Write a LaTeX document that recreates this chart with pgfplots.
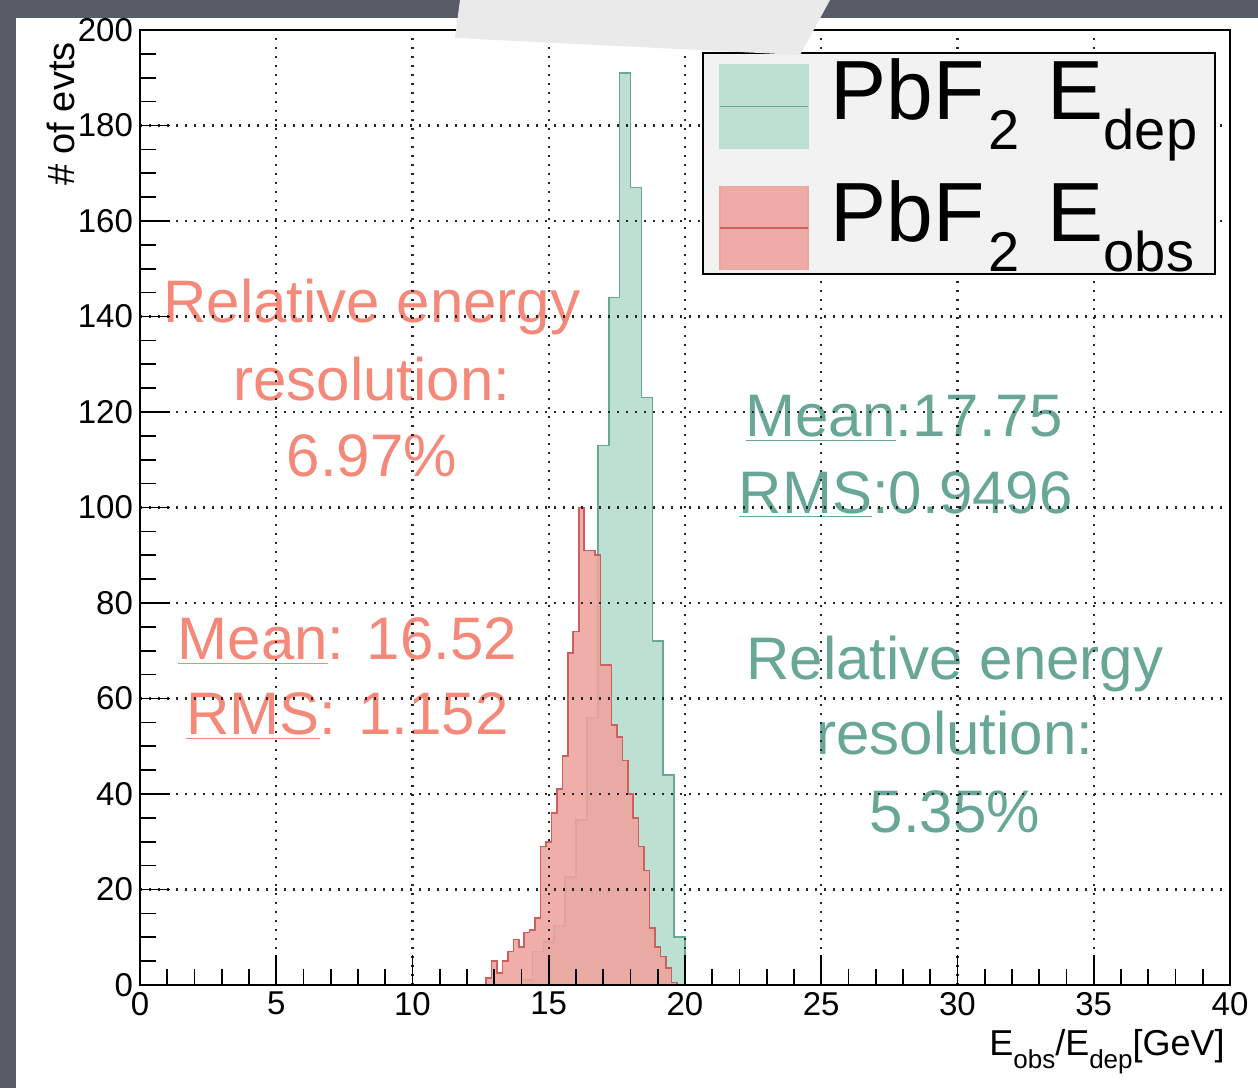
\documentclass[border=0pt]{standalone}
\usepackage{pgfplots}
\pgfplotsset{compat=1.18}
\usepackage{fontspec}
\setmainfont{Liberation Sans}

\definecolor{bggray}{RGB}{88,92,102}
\definecolor{paper}{RGB}{234,234,234}
\definecolor{gfill}{RGB}{190,224,210}
\definecolor{gline}{RGB}{105,168,145}
\definecolor{rfill}{RGB}{239,163,157}
\definecolor{rline}{RGB}{205,95,95}
\definecolor{salm}{RGB}{244,137,122}
\definecolor{teal2}{RGB}{104,166,150}
\definecolor{legbg}{RGB}{242,242,242}

% ROOT-style lowered subscripts
\newcommand{\sub}[1]{\raisebox{-15pt}{\fontsize{28}{28}\selectfont #1}}
\newcommand{\lsub}[1]{\raisebox{-6.5pt}{\fontsize{13}{13}\selectfont #1}}

\begin{document}
\begin{tikzpicture}[x=1pt,y=1pt]
\path[use as bounding box] (0,0) rectangle (629,544);
\fill[bggray] (0,0) rectangle (629,544);
\fill[white] (8,0) rectangle (629,535);
\begin{axis}[
    at={(70pt,51.5pt)}, anchor=south west,
    scale only axis, width=545pt, height=477.5pt,
    xmin=0, xmax=40, ymin=0, ymax=200,
    xtick={0,5,...,40}, ytick={0,20,...,200},
    minor x tick num=4, minor y tick num=3,
    tick pos=left, tick align=inside,
    major tick length=15pt, minor tick length=8pt,
    every tick/.style={black, line width=0.8pt},
    axis line style={line width=1pt},
    grid=major,
    grid style={black!85, line width=1.1pt, dash pattern=on 1.1pt off 3.4pt},
    axis on top, clip=false,
    tick label style={font=\fontsize{16.5}{16.5}\selectfont},
    /pgf/number format/assume math mode=true,
    legend style={at={(rel axis cs:0.5156,0.977)}, anchor=north west,
        fill=legbg, draw=black, line width=1pt,
        font=\fontsize{42}{42}\selectfont,
        inner xsep=8pt, inner ysep=2pt, row sep=15pt,
        nodes={inner sep=1pt}},
    legend cell align=left,
]
% PbF2 E_dep, bins of 0.4
\addplot[const plot, fill=gfill, draw=gline, line width=0.8pt,
    legend image code/.code={
        \fill[gfill] (0pt,-28.5pt) rectangle (44pt,13pt);
        \draw[gline, line width=0.8pt] (0pt,-7.75pt) -- (44pt,-7.75pt);
        \path (54pt,0pt);}]
table {
x y
12.0 0
14.0 1
14.4 7
14.8 9
15.2 12.5
15.6 22.6
16.0 34.5
16.4 56
16.8 113
17.2 144
17.6 191
18.0 167
18.4 123
18.8 72
19.2 44
19.6 10
20.0 0
20.4 0
} \closedcycle;
\addlegendentry{PbF\hspace{2pt}\sub{2}\hspace{14pt}E\sub{dep}}

% PbF2 E_obs, bins of 0.2
\addplot[const plot, fill=rfill, fill opacity=0.88, draw=rline, line width=0.8pt,
    legend image code/.code={
        \fill[rfill] (0pt,-28.5pt) rectangle (44pt,13pt);
        \draw[rline, line width=0.8pt] (0pt,-7.75pt) -- (44pt,-7.75pt);
        \path (54pt,0pt);}]
table {
x y
0 0
12.5 0
12.7 1.5
12.9 5
13.1 2.5
13.3 5
13.5 7
13.7 9.5
13.9 8
14.1 11
14.3 11.5
14.5 14
14.7 29
14.9 30
15.1 36
15.3 41
15.5 48
15.7 69.5
15.9 74
16.1 100
16.3 91
16.5 91
16.7 90
16.9 67
17.1 67
17.3 54.5
17.5 52
17.7 47
17.9 40
18.1 35
18.3 29
18.5 24
18.7 12
18.9 8
19.1 6
19.3 3.6
19.5 0.5
19.7 0
24 0
} \closedcycle;
\addlegendentry{PbF\hspace{2pt}\sub{2}\hspace{14pt}E\sub{obs}}

% annotations
\begin{scope}[every node/.style={font=\fontsize{30}{30}\selectfont, inner sep=0pt, anchor=base}]
\node[text=salm] at (axis cs:8.51,138.8) {Relative energy};
\node[text=salm] at (axis cs:8.51,122.5) {resolution:};
\node[text=salm] at (axis cs:8.51,106.4) {6.97\%};
\node[text=salm] at (axis cs:7.61,68.1) {\underline{Mean}: 16.52};
\node[text=salm] at (axis cs:7.61,52.4) {\underline{RMS}: 1.152};
\node[text=teal2] at (axis cs:28.04,114.8) {\underline{Mean}:17.75};
\node[text=teal2] at (axis cs:28.1,98.8) {\underline{RMS}:0.9496};
\node[text=teal2] at (axis cs:29.9,63.9) {Relative energy};
\node[text=teal2] at (axis cs:29.9,48.2) {resolution:};
\node[text=teal2] at (axis cs:29.9,32.0) {5.35\%};
\end{scope}

% axis titles
\node[anchor=base east, inner sep=0pt, font=\fontsize{18}{18}\selectfont]
    at (axis cs:39.82,-14.66) {E\lsub{obs}/E\lsub{dep}[GeV]};
\node[rotate=90, anchor=base east, inner sep=0pt, font=\fontsize{19}{19}\selectfont]
    at (axis cs:-2.42,197.5) {\# of evts};
\end{axis}
% sheet of paper lying over the top edge of the slide
\fill[paper] (230,544) -- (415,544) -- (400,516.5) -- (227.5,525) -- cycle;
\end{tikzpicture}
\end{document}
